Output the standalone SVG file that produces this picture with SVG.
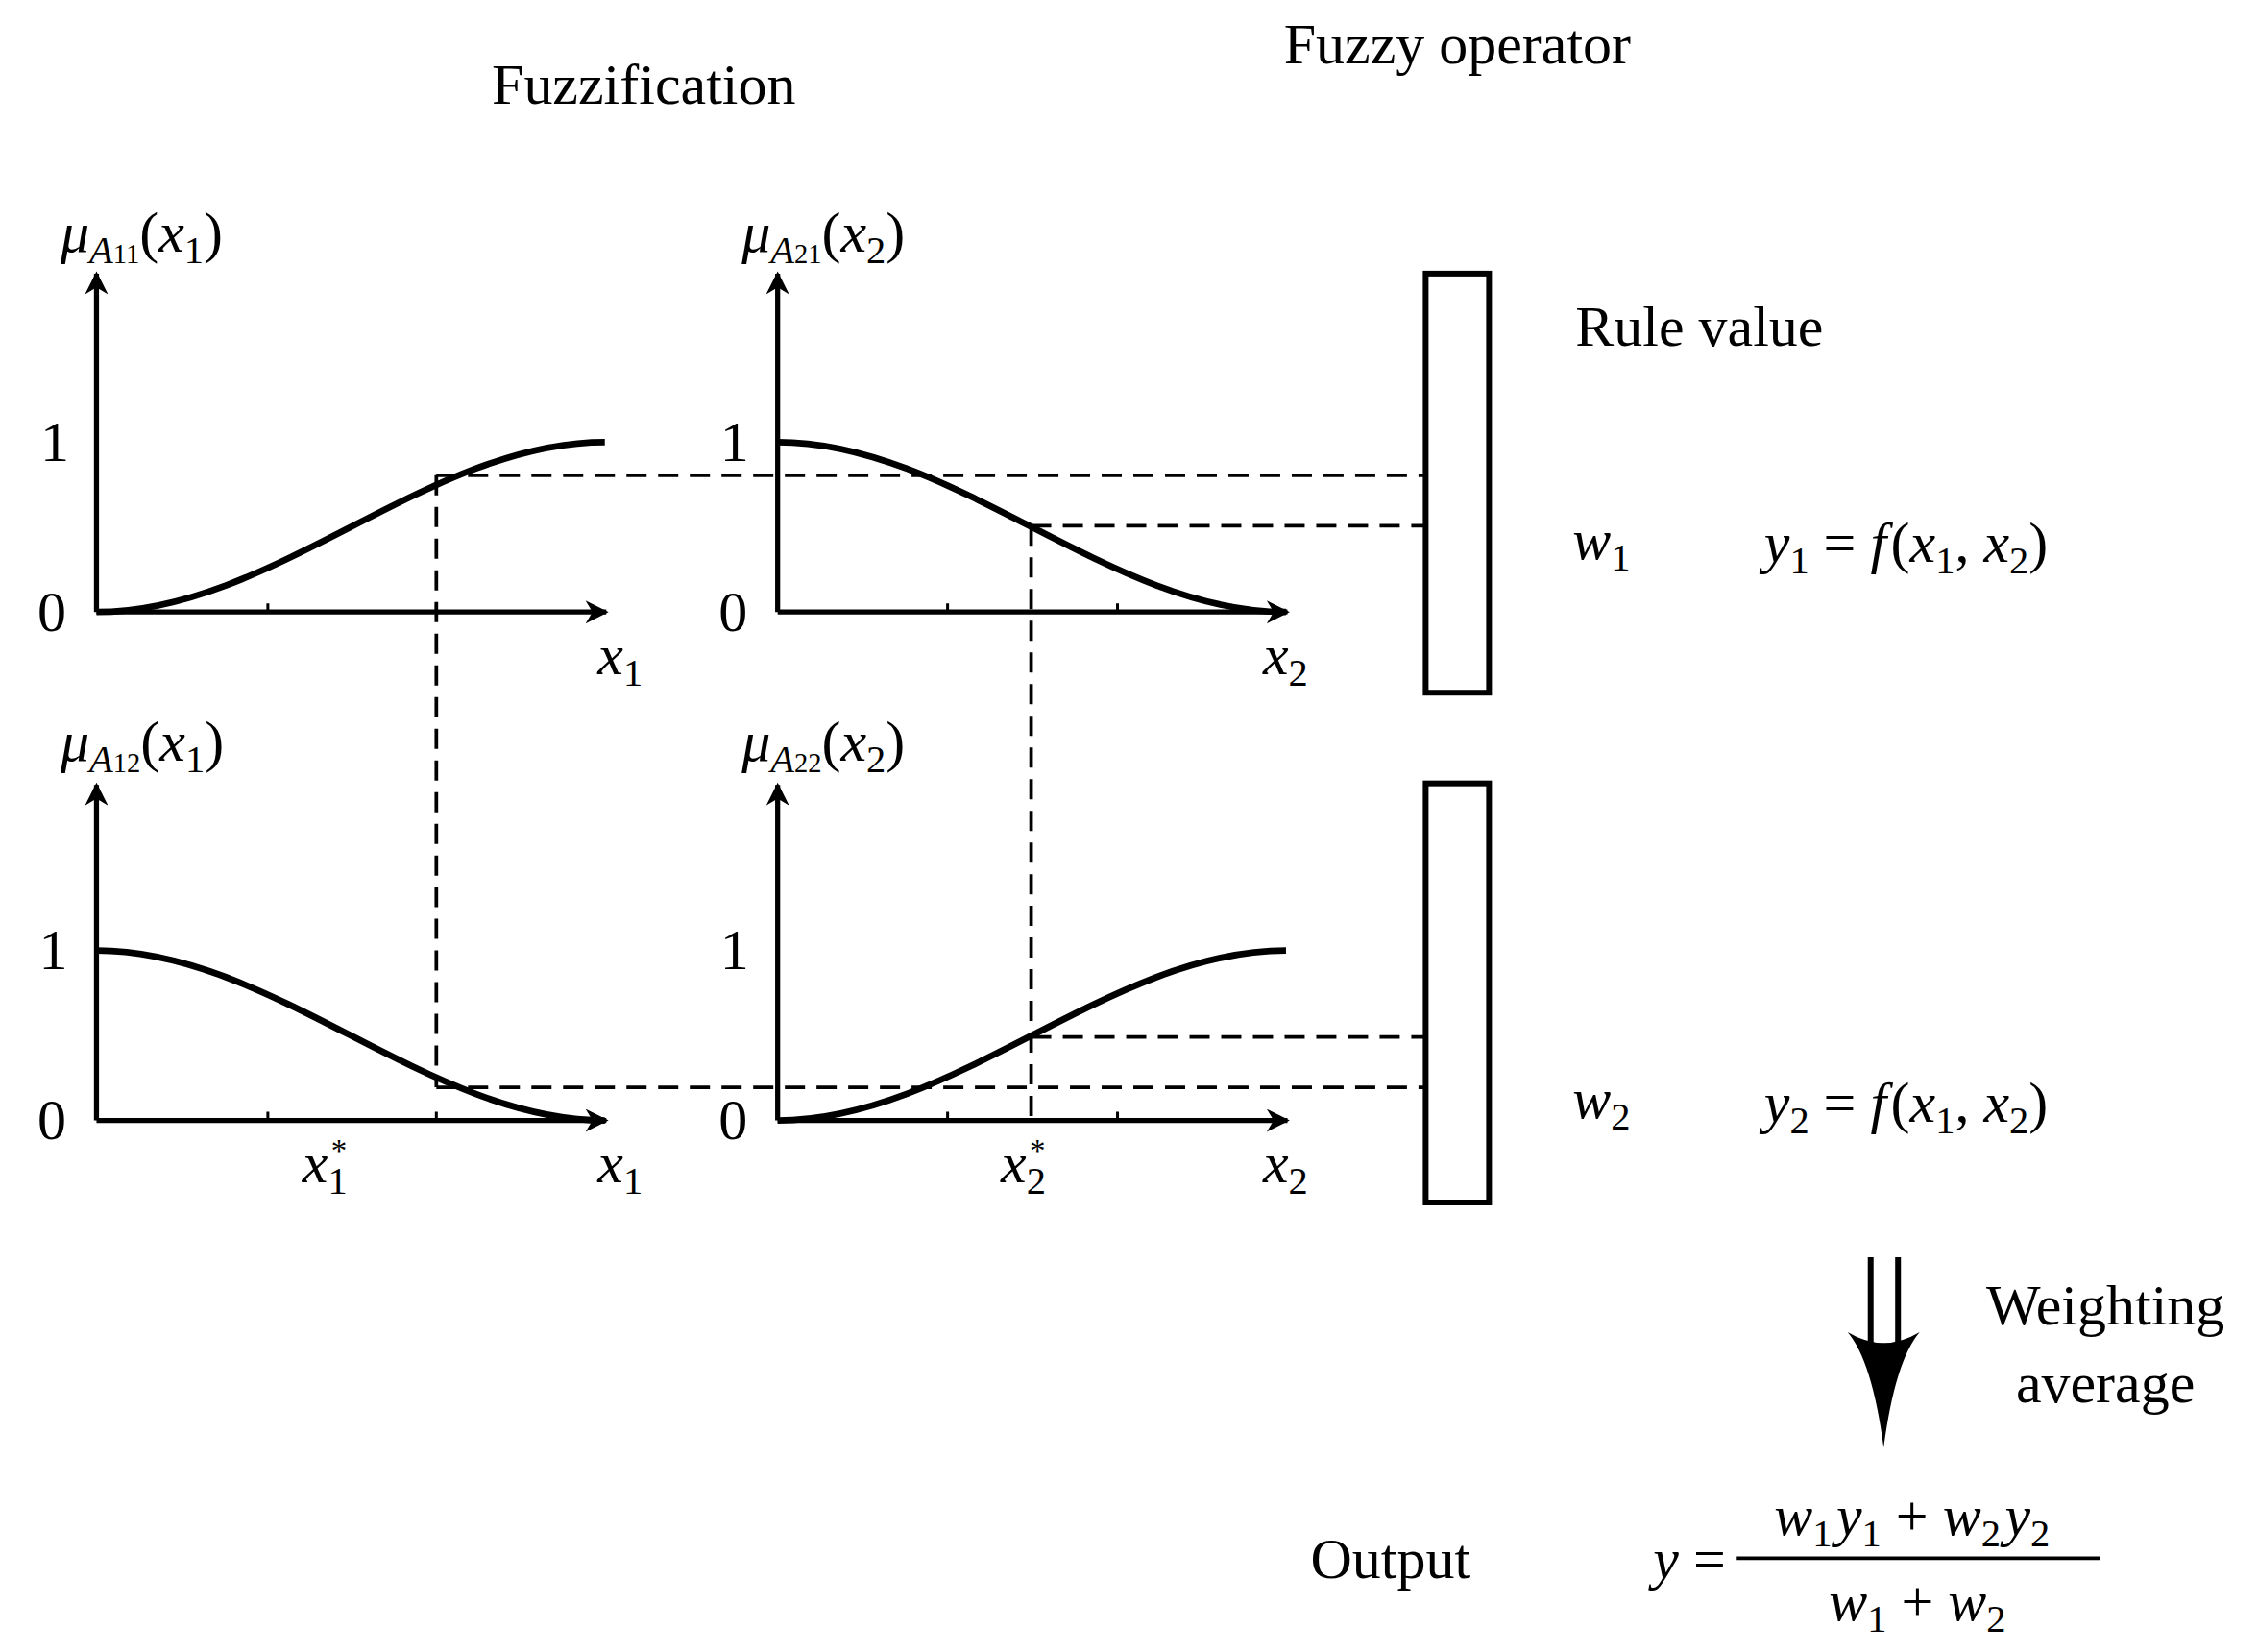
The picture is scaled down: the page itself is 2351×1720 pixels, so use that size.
<svg xmlns="http://www.w3.org/2000/svg" width="2351" height="1720" viewBox="0 0 2351 1720">
<defs>
<marker id="ah" viewBox="0 0 10 10" refX="9" refY="5" markerWidth="24" markerHeight="16" markerUnits="userSpaceOnUse" orient="auto"><path d="M0,0 L10,5 L0,10 L3,5 Z" fill="#000"/></marker>
<style>
text{font-family:"Liberation Serif","DejaVu Serif",serif;font-size:40px;fill:#000}
.m{font-style:italic}
.s{font-size:27px}
.st{font-size:22px}
.ax{stroke:#000;stroke-width:3.5;fill:none;marker-end:url(#ah)}
.cv{stroke:#000;stroke-width:4.5;fill:none}
.ds{stroke:#000;stroke-width:2.5;stroke-dasharray:14,8;fill:none}
.tk{stroke:#000;stroke-width:2}
.bx{stroke:#000;stroke-width:4;fill:#fff}
</style>
</defs>
<rect width="2351" height="1720" fill="#fff"/>
<g transform="scale(1.4994)">
<text x="447" y="72" text-anchor="middle">Fuzzification</text>
<text x="1012" y="44" text-anchor="middle">Fuzzy operator</text>

<g id="connectors">
<path class="ds" d="M303,330 H990 M303,330 V755 M716,365 H990 M716,365 V778 M303,755 H990 M716,720 H990"/>
</g>

<g id="plot11">
<path class="ax" d="M67,425 V190"/><path class="ax" d="M67,425 H421"/>
<path class="tk" d="M186,425 v-6 M303,425 v-6"/>
<path class="cv" d="M67,425 C190,425 297,307 420,307"/>
<text x="38" y="320" text-anchor="middle">1</text><text x="36" y="438" text-anchor="middle">0</text>
<text x="42" y="175"><tspan class="m">μ</tspan><tspan class="m s" dy="8">A</tspan><tspan font-size="19">11</tspan><tspan dy="-8">(</tspan><tspan class="m">x</tspan><tspan class="s" dy="8">1</tspan><tspan dy="-8">)</tspan></text>
<text x="415" y="468" class="m">x<tspan class="s" dy="8" font-style="normal">1</tspan></text>
</g>

<g id="plot21">
<path class="ax" d="M540,425 V190"/><path class="ax" d="M540,425 H894"/>
<path class="tk" d="M658,425 v-6 M776,425 v-6"/>
<path class="cv" d="M540,307 C663,307 770,425 893,425"/>
<text x="510" y="320" text-anchor="middle">1</text><text x="509" y="438" text-anchor="middle">0</text>
<text x="515" y="175"><tspan class="m">μ</tspan><tspan class="m s" dy="8">A</tspan><tspan font-size="19">21</tspan><tspan dy="-8">(</tspan><tspan class="m">x</tspan><tspan class="s" dy="8">2</tspan><tspan dy="-8">)</tspan></text>
<text x="877" y="468" class="m">x<tspan class="s" dy="8" font-style="normal">2</tspan></text>
</g>

<g id="plot12">
<path class="ax" d="M67,778 V545"/><path class="ax" d="M67,778 H421"/>
<path class="tk" d="M186,778 v-6 M303,778 v-6"/>
<path class="cv" d="M67,660 C190,660 297,778 420,778"/>
<text x="37" y="673" text-anchor="middle">1</text><text x="36" y="791" text-anchor="middle">0</text>
<text x="42" y="528"><tspan class="m">μ</tspan><tspan class="m s" dy="8">A</tspan><tspan font-size="19">12</tspan><tspan dy="-8">(</tspan><tspan class="m">x</tspan><tspan class="s" dy="8">1</tspan><tspan dy="-8">)</tspan></text>
<text x="415" y="821" class="m">x<tspan class="s" dy="8" font-style="normal">1</tspan></text>
<text x="210" y="821" class="m">x<tspan class="s" dy="8" font-style="normal">1</tspan></text>
<text x="230" y="806" class="st">*</text>
</g>

<g id="plot22">
<path class="ax" d="M540,778 V545"/><path class="ax" d="M540,778 H894"/>
<path class="tk" d="M658,778 v-6 M776,778 v-6"/>
<path class="cv" d="M540,778 C663,778 770,660 893,660"/>
<text x="510" y="673" text-anchor="middle">1</text><text x="509" y="791" text-anchor="middle">0</text>
<text x="515" y="528"><tspan class="m">μ</tspan><tspan class="m s" dy="8">A</tspan><tspan font-size="19">22</tspan><tspan dy="-8">(</tspan><tspan class="m">x</tspan><tspan class="s" dy="8">2</tspan><tspan dy="-8">)</tspan></text>
<text x="877" y="821" class="m">x<tspan class="s" dy="8" font-style="normal">2</tspan></text>
<text x="695" y="821" class="m">x<tspan class="s" dy="8" font-style="normal">2</tspan></text>
<text x="715" y="806" class="st">*</text>
</g>

<g id="rule1"><rect class="bx" x="990" y="190" width="44" height="291"/></g>
<g id="rule2"><rect class="bx" x="990" y="544" width="44" height="291"/></g>

<text x="1094" y="240">Rule value</text>
<text x="1092" y="388" class="m">w<tspan class="s" dy="8" font-style="normal">1</tspan></text>
<text x="1225" y="390"><tspan class="m">y</tspan><tspan class="s" dy="8">1</tspan><tspan dy="-8"> = </tspan><tspan class="m">f</tspan><tspan dx="3">(</tspan><tspan class="m">x</tspan><tspan class="s" dy="8">1</tspan><tspan dy="-8">, </tspan><tspan class="m">x</tspan><tspan class="s" dy="8">2</tspan><tspan dy="-8">)</tspan></text>
<text x="1092" y="776" class="m">w<tspan class="s" dy="8" font-style="normal">2</tspan></text>
<text x="1225" y="779"><tspan class="m">y</tspan><tspan class="s" dy="8">2</tspan><tspan dy="-8"> = </tspan><tspan class="m">f</tspan><tspan dx="3">(</tspan><tspan class="m">x</tspan><tspan class="s" dy="8">1</tspan><tspan dy="-8">, </tspan><tspan class="m">x</tspan><tspan class="s" dy="8">2</tspan><tspan dy="-8">)</tspan></text>

<g id="weight-arrow">
<path d="M1299,873 V940 M1318,873 V940" stroke="#000" stroke-width="4"/>
<path d="M1283,925 Q1300,945 1308,1005 Q1316,945 1333,925 Q1308,940 1283,925 Z" fill="#000"/>
</g>
<text x="1462" y="920" text-anchor="middle">Weighting</text>
<text x="1462" y="974" text-anchor="middle">average</text>

<text x="910" y="1096">Output</text>
<text x="1148" y="1096" class="m">y<tspan font-style="normal"> =</tspan></text>
<path d="M1206,1082 H1458" stroke="#000" stroke-width="2.5"/>
<text x="1232" y="1066"><tspan class="m">w</tspan><tspan class="s" dy="8">1</tspan><tspan class="m" dx="3" dy="-8">y</tspan><tspan class="s" dy="8">1</tspan><tspan dy="-8"> + </tspan><tspan class="m">w</tspan><tspan class="s" dy="8">2</tspan><tspan class="m" dx="3" dy="-8">y</tspan><tspan class="s" dy="8">2</tspan></text>
<text x="1270" y="1125"><tspan class="m">w</tspan><tspan class="s" dy="8">1</tspan><tspan dy="-8"> + </tspan><tspan class="m">w</tspan><tspan class="s" dy="8">2</tspan></text>
</g>
</svg>
